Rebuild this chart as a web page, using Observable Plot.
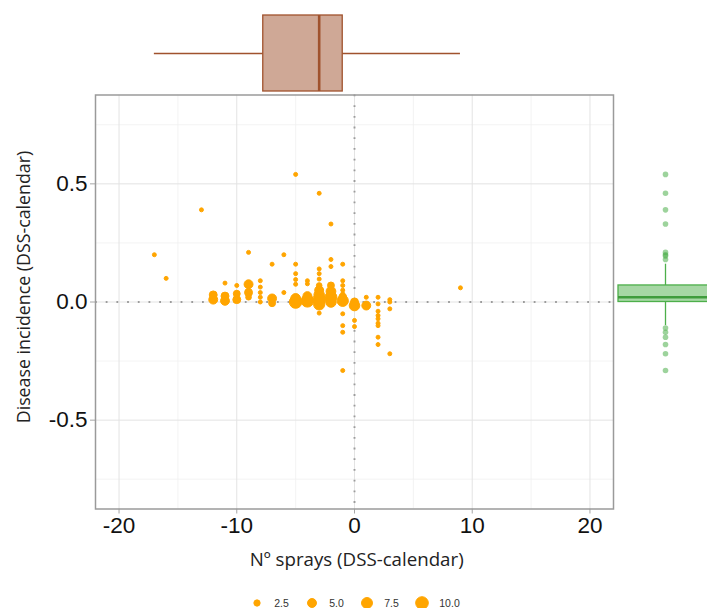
<!DOCTYPE html>
<html><head><meta charset="utf-8">
<script src="https://cdn.jsdelivr.net/npm/d3@7"></script>
<script src="https://cdn.jsdelivr.net/npm/@observablehq/plot@0.6"></script>
<style>
html,body{margin:0;padding:0;background:#fff;overflow:hidden;}
#wrap{position:relative;width:707px;height:608px;overflow:hidden;}
#wrap > * {position:absolute;}
[aria-label$="axis tick"]{stroke:#a6a6a6;}
.lg{display:flex;align-items:center;font-family:"Liberation Sans",Arial,sans-serif;font-size:10.5px;color:#333;}
</style></head><body><div id="wrap"></div>
<script>
// ---- data ----
const sprays    = [-17,-16,-13,-12,-12,-11,-11,-11,-10,-10,-10,-9,-9,-9,-9,-8,-8,-8,-8,-8,-7,-7,-7,-6,-6,
                   -5,-5,-5,-5,-5,-5,-5,-4,-4,-4,-4,-3,-3,-3,-3,-3,-3,-3,-3,-3,-3,-2,-2,-2,-2,-2,-2,-2,
                   -1,-1,-1,-1,-1,-1,-1,-1,-1,-1,-1,0,0,0,0,1,1,2,2,2,2,2,2,2,2,2,3,3,3,3,9];
const incidence = [0.20,0.10,0.39,0.03,0.01,0.08,0.025,0.005,0.07,0.035,0.01,0.21,0.075,0.04,0.02,0.09,0.063,0.04,0.02,0.0,0.16,0.015,-0.005,0.20,0.04,
                   0.54,0.16,0.12,0.095,0.075,0.015,0.0,0.09,0.077,0.025,0.005,0.46,0.14,0.12,0.097,0.07,0.05,0.03,0.01,-0.01,-0.047,0.33,0.18,0.15,0.07,0.045,0.02,0.0,
                   0.16,0.09,0.07,0.05,0.035,0.02,0.005,-0.05,-0.10,-0.128,-0.29,0.0,-0.015,-0.078,-0.104,0.02,-0.015,0.02,-0.008,-0.039,-0.057,-0.071,-0.09,-0.10,-0.149,-0.18,0.01,0.0,-0.029,-0.219,0.06];
const count     = [1,1,1,4,5,1,4,5,1,3,4,1,5,4,2,1,1,1,1,1,1,5,3,1,1,
                   1,1,1,1,1,6,10,1,1,5,10,1,1,1,1,2,5,7,10,8,1,1,1,1,3,6,9,7,
                   1,1,1,1,1,4,8,1,1,1,1,4,7,1,1,1,5,1,1,1,1,1,1,1,1,1,1,1,1,1,1];
const xTicks = [-20, -10, 0, 10, 20];
const xMinor = [-15, -5, 5, 15];
const yTicks = [-0.5, 0, 0.5];
const yMinor = [-0.75, -0.25, 0.25, 0.75];
const sizeLegend = [2.5, 5, 7.5, 10];
// marginal boxplot summaries: lower whisker, q1, median, q3, upper whisker
const spraysStats = [-17, -7.75, -3, -1, 9];
const incidenceStats = [-0.10, 0.0, 0.02, 0.07, 0.16];
const incidenceOutliers = [0.54, 0.46, 0.39, 0.33, 0.21, 0.20, 0.195, 0.18, -0.11, -0.128, -0.149, -0.18, -0.219, -0.29];
const xTitle = "Nº sprays (DSS-calendar)";
const yTitle = "Disease incidence (DSS-calendar)";

// ---- styles ----
const ORANGE = "#ffa500", SIENNA = "#a0522d", GREEN = "#4daf4a";
const xDomain = [-22, 22], yDomain = [-0.876, 0.876];
const W = 707, ML = 95, MR = 94;
const DOT_STROKE = 1;
const fmtY = d => (d < 0 ? "-" : "") + Math.abs(d).toFixed(1);
const toStats = (g, s) => [{g, min: s[0], q1: s[1], median: s[2], q3: s[3], max: s[4]}];

const wrap = document.getElementById("wrap");
const pts = sprays.map((x, i) => ({x, y: incidence[i], n: count[i]}));

// top marginal boxplot
const topBox = toStats("sprays", spraysStats);
const topPlot = Plot.plot({
  width: W, height: 95, marginLeft: ML, marginRight: MR, marginTop: 15, marginBottom: 4,
  style: {background: "transparent"},
  x: {domain: xDomain, axis: null},
  y: {domain: ["sprays"], axis: null, padding: 0},
  marks: [
    Plot.ruleY(topBox, {y: "g", x1: "min", x2: "q1", stroke: SIENNA, strokeWidth: 1.3}),
    Plot.ruleY(topBox, {y: "g", x1: "q3", x2: "max", stroke: SIENNA, strokeWidth: 1.3}),
    Plot.barX(topBox, {y: "g", x1: "q1", x2: "q3", fill: SIENNA, fillOpacity: 0.5, stroke: SIENNA, strokeWidth: 1.3}),
    Plot.tickX(topBox, {y: "g", x: "median", stroke: SIENNA, strokeWidth: 2.6})
  ]
});
topPlot.style.left = "0px"; topPlot.style.top = "0px";
wrap.appendChild(topPlot);

// main scatter
const mainPlot = Plot.plot({
  width: W, height: 450, marginLeft: ML, marginRight: MR, marginTop: 4.5, marginBottom: 31.5,
  style: {fontFamily: "'Liberation Sans', Arial, sans-serif", fontSize: "22.5px", color: "#111", background: "transparent"},
  x: {domain: xDomain, ticks: xTicks, tickSize: 5, tickPadding: 3, label: null, tickFormat: d => String(d)},
  y: {domain: yDomain, ticks: yTicks, tickSize: 5, tickPadding: 3, label: null, tickFormat: fmtY},
  r: {domain: [0, 10], range: [0, 6.3]},
  marks: [
    Plot.ruleX(xMinor, {stroke: "#f0f0f0", strokeWidth: 0.8}),
    Plot.ruleY(yMinor, {stroke: "#f0f0f0", strokeWidth: 0.8}),
    Plot.ruleX(xTicks, {stroke: "#e3e3e3", strokeWidth: 1}),
    Plot.ruleY(yTicks, {stroke: "#e3e3e3", strokeWidth: 1}),
    Plot.ruleX([0], {stroke: "#9c9c9c", strokeWidth: 1.9, strokeDasharray: "1.8,8.9"}),
    Plot.ruleY([0], {stroke: "#9c9c9c", strokeWidth: 1.9, strokeDasharray: "1.8,8.9"}),
    Plot.dot(pts, {x: "x", y: "y", r: "n", fill: ORANGE, stroke: ORANGE, strokeWidth: DOT_STROKE, sort: {channel: "r", order: "descending"}}),
    Plot.frame({stroke: "#9a9a9a", strokeWidth: 1.5})
  ]
});
mainPlot.style.left = "0px"; mainPlot.style.top = "90px";
wrap.appendChild(mainPlot);

// right marginal boxplot
const rightBox = toStats("incidence", incidenceStats);
const rightPlot = Plot.plot({
  width: 100, height: 450, marginLeft: 5, marginRight: 1, marginTop: 4.5, marginBottom: 31.5,
  style: {background: "transparent"},
  x: {domain: ["incidence"], axis: null, padding: 0},
  y: {domain: yDomain, axis: null},
  marks: [
    Plot.ruleX(rightBox, {x: "g", y1: "min", y2: "q1", stroke: GREEN, strokeWidth: 1.3}),
    Plot.ruleX(rightBox, {x: "g", y1: "q3", y2: "max", stroke: GREEN, strokeWidth: 1.3}),
    Plot.barY(rightBox, {x: "g", y1: "q1", y2: "q3", fill: GREEN, fillOpacity: 0.5, stroke: GREEN, strokeWidth: 1.3}),
    Plot.tickY(rightBox, {x: "g", y: "median", stroke: "#3f9c3c", strokeWidth: 2.6}),
    Plot.dot(incidenceOutliers, {x: () => "incidence", y: d => d, r: 2.8, fill: GREEN, fillOpacity: 0.55})
  ]
});
rightPlot.style.left = "613px"; rightPlot.style.top = "90px";
wrap.appendChild(rightPlot);

// axis titles
const xt = document.createElement("div");
xt.textContent = xTitle;
Object.assign(xt.style, {left: "3.2px", top: "549px", width: "707px", textAlign: "center",
  font: "18.7px 'Open Sans', sans-serif", lineHeight: "20px", color: "#222", whiteSpace: "nowrap"});
wrap.appendChild(xt);

const yt = document.createElement("div");
yt.textContent = yTitle;
Object.assign(yt.style, {left: "23px", top: "286.5px", transform: "translate(-50%,-50%) rotate(-90deg)",
  font: "17.8px 'Open Sans', sans-serif", lineHeight: "20px", color: "#222", whiteSpace: "nowrap"});
wrap.appendChild(yt);

// size legend
const rs = mainPlot.scale("r");
const rFn = d3.scaleSqrt().domain(rs.domain).range(rs.range);
const lg = document.createElement("div");
lg.className = "lg";
Object.assign(lg.style, {left: "0px", top: "592.7px", width: "707px", height: "20px", justifyContent: "center"});
sizeLegend.forEach((v, i) => {
  const svg = d3.create("svg").attr("width", 20).attr("height", 20);
  svg.append("circle").attr("cx", 10).attr("cy", 10).attr("r", rFn(v))
    .attr("fill", ORANGE).attr("stroke", ORANGE).attr("stroke-width", DOT_STROKE);
  lg.appendChild(svg.node());
  const s = document.createElement("span");
  s.textContent = d3.format(".1f")(v);
  s.style.marginLeft = "7px";
  s.style.marginRight = i < sizeLegend.length - 1 ? "13.4px" : "0px";
  lg.appendChild(s);
});
wrap.appendChild(lg);
</script>
</body></html>
